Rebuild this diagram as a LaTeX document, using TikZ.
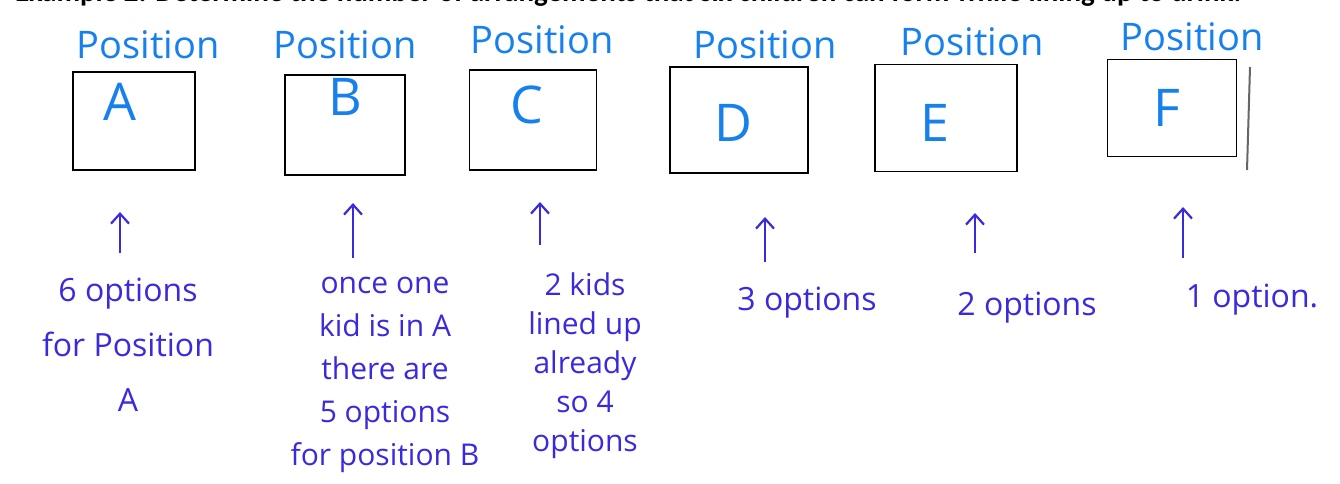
\documentclass[tikz,border=0pt]{standalone}
\usepackage{fontspec}
\setmainfont{Open Sans}
\newfontfamily\headfont{Carlito}
\usetikzlibrary{arrows.meta}

\definecolor{penblue}{RGB}{22,128,236}
\definecolor{penviolet}{RGB}{58,42,222}

\begin{document}
\begin{tikzpicture}[x=1pt, y=-1pt, >={Straight Barb[length=10pt,width=18pt]},
  slot/.style={draw, line width=1.8pt, inner sep=0pt},
  poslabel/.style={text=penblue, font=\fontsize{38}{38}\selectfont, inner sep=0pt},
  letter/.style={text=penblue, font=\fontsize{52}{52}\selectfont, inner sep=0pt},
  note/.style={text=penviolet, align=center, inner sep=0pt},
  uparrow/.style={->, penviolet, line width=2.2pt}]
\useasboundingbox (0,0) rectangle (1340,483);

% heading, cut off by the top edge
\begin{scope}
\clip (0,0) rectangle (1340,483);
\node[anchor=base west, inner sep=0pt, font=\headfont\bfseries\fontsize{29}{29}\selectfont] (head) at (15,1)
  {Example 2: Determine the number of arrangements that six children can form while lining up to drink.};
\end{scope}

% the six places in the line
\node[slot, minimum width=122, minimum height=98] (boxA) at (134,121) {};
\node[slot, minimum width=120, minimum height=100] (boxB) at (345,125) {};
\node[slot, minimum width=127, minimum height=100] (boxC) at (533,120) {};
\node[slot, minimum width=138, minimum height=106] (boxD) at (739,120) {};
\node[slot, minimum width=142, minimum height=107] (boxE) at (946,118) {};
\node[slot, minimum width=129, minimum height=97] (boxF) at (1172,108) {};
\draw[line width=2pt, black!60] (1250,67) -- (1247,170);

\node[poslabel] (posA) at (148,45) {Position};
\node[poslabel] (posB) at (345,45) {Position};
\node[poslabel] (posC) at (542,40) {Position};
\node[poslabel] (posD) at (765,45) {Position};
\node[poslabel] (posE) at (972,42) {Position};
\node[poslabel] (posF) at (1192,37) {Position};

\node[letter] (letA) at (120,102) {A};
\node[letter] (letB) at (345,97) {B};
\node[letter] (letC) at (527,105) {C};
\node[letter] (letD) at (733,123) {D};
\node[letter] (letE) at (935,123) {E};
\node[letter] (letF) at (1167,108) {F};

% how many kids are left for each place
\node[note, font=\fontsize{32}{55}\selectfont] (noteA) at (128,345) {6 options\\for Position\\A};
\node[note, font=\fontsize{30}{43}\selectfont] (noteB) at (385,375) {once one\\kid is in A\\there are\\5 options\\for position B};
\node[note, font=\fontsize{30}{39}\selectfont] (noteC) at (585,366) {2 kids\\lined up\\already\\so 4\\options};
\node[note, font=\fontsize{32}{32}\selectfont] (noteD) at (807,303) {3 options};
\node[note, font=\fontsize{32}{32}\selectfont] (noteE) at (1027,308) {2 options};
\node[note, font=\fontsize{32}{32}\selectfont] (noteF) at (1252,300) {1 option.};

\coordinate (tailA) at (120,253); \coordinate (tipA) at (120,212);
\coordinate (tailB) at (353,258); \coordinate (tipB) at (353,203);
\coordinate (tailC) at (540,245); \coordinate (tipC) at (540,202);
\coordinate (tailD) at (765,262); \coordinate (tipD) at (765,217);
\coordinate (tailE) at (975,253); \coordinate (tipE) at (975,213);
\coordinate (tailF) at (1183,258); \coordinate (tipF) at (1183,207);

\foreach \p in {A,B,C,D,E,F}
  \draw[uparrow] (tail\p) -- (tip\p);
\end{tikzpicture}
\end{document}
